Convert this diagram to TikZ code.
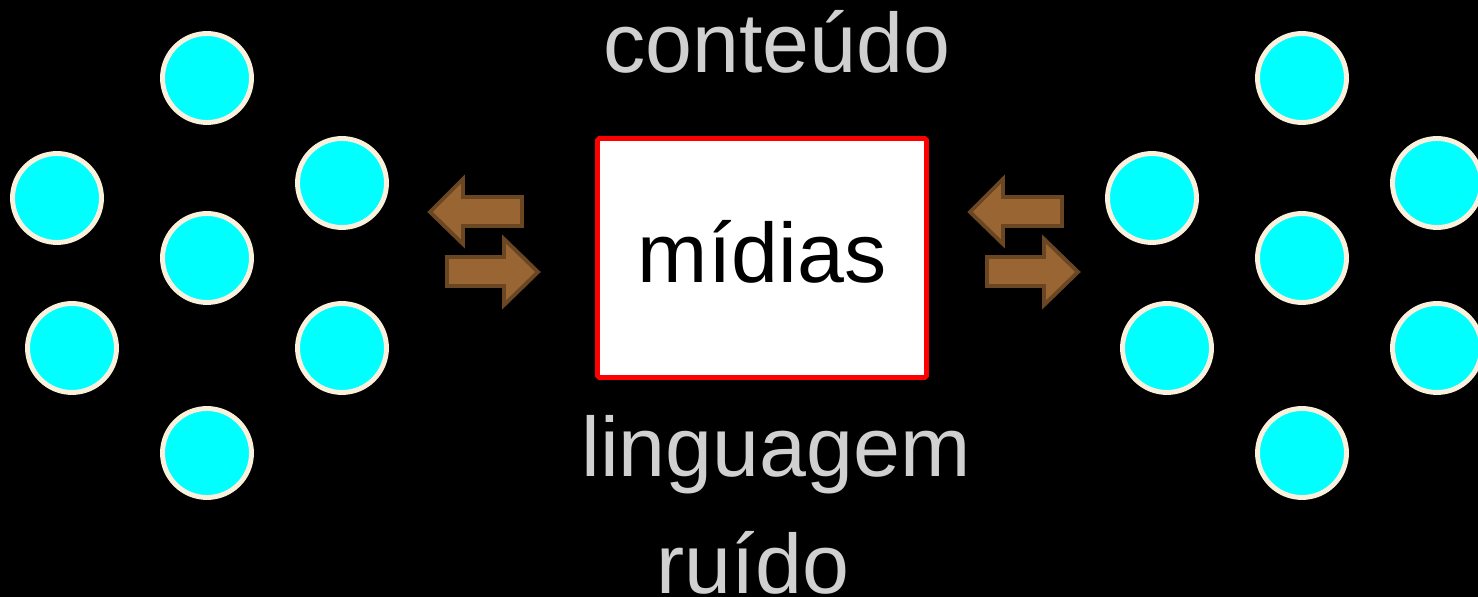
\documentclass[tikz,border=0pt]{standalone}
\usepackage{fontspec}
\setmainfont{Liberation Sans}
\usetikzlibrary{positioning}

\definecolor{ciano}{HTML}{00FFFF}
\definecolor{creme}{HTML}{FAF0DC}
\definecolor{marrom}{HTML}{996633}
\definecolor{marromesc}{HTML}{6B4623}
\definecolor{cinza}{HTML}{D0D0D0}

\tikzset{
  bola/.style={circle, fill=ciano, draw=creme, line width=2.8pt, minimum size=1.78cm, inner sep=0pt},
  seta/.style={fill=marrom, draw=marromesc, line width=2.2pt, line join=miter},
  rotulo/.style={text=cinza, font=\fontsize{48}{56}\selectfont, anchor=base},
  caixa/.style={draw=red, fill=white, line width=2.8pt, rounded corners=1pt, minimum width=6.58cm, minimum height=4.78cm}
}

\begin{document}
\begin{tikzpicture}[x=0.02cm, y=-0.02cm]
    % fundo
    \fill[black] (0,0) rectangle (1478,597);
    \useasboundingbox (0,0) rectangle (1478,597);

    % grupo da esquerda
    \foreach \nome/\px/\py in {c1/207/78, c2/57/198, c3/342/183, c4/207/258, c5/72/348, c6/342/348, c7/207/453}
        \node[bola] (\nome) at (\px,\py) {};

    % grupo da direita
    \foreach \nome/\px/\py in {d1/1302/78, d2/1152/198, d3/1437/183, d4/1302/258, d5/1167/348, d6/1437/348, d7/1302/453}
        \node[bola] (\nome) at (\px,\py) {};

    % caixa central
    \node[caixa] (midias) at (762,258) {};
    \node[rotulo, text=black] (txtmidias) at (762,283) {mídias};

    % setas
    \foreach \dx in {0,540} {
        \draw[seta] (430+\dx,212) -- ++(33,-33) -- ++(0,18) -- ++(59,0) -- ++(0,29) -- ++(-59,0) -- ++(0,18) -- cycle;
        \draw[seta] (538+\dx,272) -- ++(-34,-33) -- ++(0,18) -- ++(-57,0) -- ++(0,29) -- ++(57,0) -- ++(0,19) -- cycle;
    }

    % rótulos
    \node[rotulo] (conteudo) at (777,73) {conteúdo};
    \node[rotulo] (linguagem) at (776,477) {linguagem};
    \node[rotulo] (ruido) at (753,594) {ruído};
\end{tikzpicture}
\end{document}
